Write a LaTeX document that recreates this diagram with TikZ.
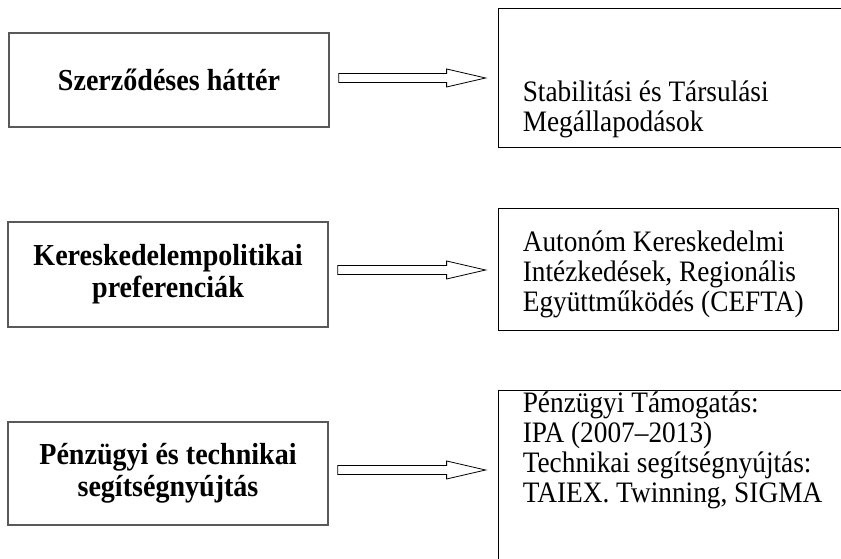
\documentclass[tikz,border=0pt]{standalone}
\usepackage{fontspec}
\setmainfont[FakeStretch=0.92]{Liberation Serif}
\usetikzlibrary{calc}
\def\fatarrow(#1)(#2){\draw[fatarrow] ($(#1)+(0,4.5)$) -- ($(#2)+(-39,4.5)$) -- ($(#2)+(-39,9)$) -- (#2) -- ($(#2)+(-39,-9)$) -- ($(#2)+(-39,-4.5)$) -- ($(#1)+(0,-4.5)$) -- cycle;}
\tikzset{
  leftbox/.style={draw=black!65, line width=1.3pt, minimum width=320pt, align=center, font=\fontsize{30.5}{32}\selectfont\bfseries},
  rightbox/.style={draw=black, line width=0.8pt},
  righttext/.style={anchor=west, align=left, inner sep=0pt, font=\fontsize{29.7}{30}\selectfont},
  fatarrow/.style={draw=black, line width=0.8pt, fill=white}
}
\begin{document}
\begin{tikzpicture}[x=1pt,y=1pt]
			%%%%% START %%%%%
			\clip (0, 0) rectangle (841, 559);
			\fill[white] (0, 0) rectangle (841, 559);
			
			% left column
			\node[leftbox, minimum height=94pt] (l1) at (169, 479) {Szerződéses háttér};
			\node[leftbox, minimum height=105pt] (l2) at (168, 284.5) {Kereskedelempolitikai\\preferenciák};
			\node[leftbox, minimum height=103pt] (l3) at (168, 85.5) {Pénzügyi és technikai\\segítségnyújtás};
			
			% right column
			\node[rightbox, minimum width=362pt, minimum height=139pt] (r1) at (679, 481.5) {};
			\node[rightbox, minimum width=340pt, minimum height=122pt] (r2) at (668, 290) {};
			\node[rightbox, minimum width=362pt, minimum height=185pt] (r3) at (679, 76.5) {};
			
			\node[righttext] (t1) at ($(r1.west)+(25,-32)$) {Stabilitási és Társulási\\Megállapodások};
			\node[righttext] (t2) at ($(r2.west)+(25,-5)$) {Autonóm Kereskedelmi\\Intézkedések, Regionális\\Együttműködés (CEFTA)};
			\node[righttext] (t3) at ($(r3.west)+(25,32)$) {Pénzügyi Támogatás:\\IPA (2007–2013)\\Technikai segítségnyújtás:\\TAIEX. Twinning, SIGMA};
			
			% arrows
			\foreach \i/\dy in {1/2, 2/4.5, 3/3.5} {
				\coordinate (s\i) at ($(l\i.east)+(9, \dy)$);
				\coordinate (e\i) at ($(s\i -| r\i.west)+(-12, 0)$);
				\fatarrow(s\i)(e\i)
			}
			
			%%%%% END %%%%%
\end{tikzpicture}
\end{document}
